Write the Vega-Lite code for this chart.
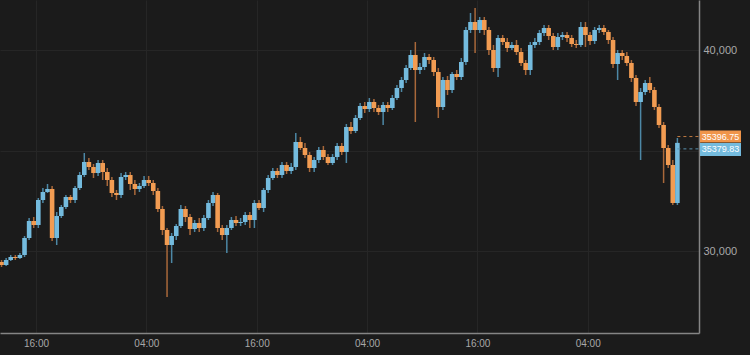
{
  "$schema": "https://vega.github.io/schema/vega-lite/v6.json",
  "width": 699,
  "height": 333,
  "autosize": "none",
  "padding": {"left": 0, "top": 0, "right": 51, "bottom": 22},
  "background": "#1b1b1b",
  "config": {
    "view": {"stroke": null},
    "axis": {"labelFont": "Liberation Sans", "labelColor": "#a8a8a8", "labelFontSize": 10, "gridColor": "#262626", "gridWidth": 1, "domainColor": "#858585", "domainWidth": 1.5, "ticks": false, "title": null}
  },
  "datasets": {
    "candles": [
      {"t":"2021-01-07T12:15:00","o":29453,"h":29552,"l":29204,"c":29304},
      {"t":"2021-01-07T12:45:00","o":29304,"h":29652,"l":29254,"c":29552},
      {"t":"2021-01-07T13:15:00","o":29552,"h":29801,"l":29502,"c":29701},
      {"t":"2021-01-07T13:45:00","o":29701,"h":29801,"l":29552,"c":29652},
      {"t":"2021-01-07T14:15:00","o":29652,"h":29900,"l":29602,"c":29801},
      {"t":"2021-01-07T14:45:00","o":29801,"h":30746,"l":29701,"c":30647},
      {"t":"2021-01-07T15:15:00","o":30647,"h":31642,"l":30547,"c":31493},
      {"t":"2021-01-07T15:45:00","o":31493,"h":31692,"l":31144,"c":31294},
      {"t":"2021-01-07T16:15:00","o":31294,"h":32637,"l":31144,"c":32538},
      {"t":"2021-01-07T16:45:00","o":32538,"h":33135,"l":32388,"c":32936},
      {"t":"2021-01-07T17:15:00","o":32936,"h":33334,"l":32886,"c":33085},
      {"t":"2021-01-07T17:45:00","o":33085,"h":33234,"l":30497,"c":30647},
      {"t":"2021-01-07T18:15:00","o":30647,"h":31940,"l":30298,"c":31741},
      {"t":"2021-01-07T18:45:00","o":31741,"h":32289,"l":31642,"c":32189},
      {"t":"2021-01-07T19:15:00","o":32189,"h":32786,"l":32090,"c":32687},
      {"t":"2021-01-07T19:45:00","o":32687,"h":32786,"l":32388,"c":32538},
      {"t":"2021-01-07T20:15:00","o":32538,"h":33234,"l":32388,"c":33135},
      {"t":"2021-01-07T20:45:00","o":33135,"h":33931,"l":33035,"c":33781},
      {"t":"2021-01-07T21:15:00","o":33781,"h":34876,"l":33682,"c":34428},
      {"t":"2021-01-07T21:45:00","o":34428,"h":34627,"l":34030,"c":34179},
      {"t":"2021-01-07T22:15:00","o":34179,"h":34329,"l":33632,"c":33881},
      {"t":"2021-01-07T22:45:00","o":33881,"h":34528,"l":33732,"c":34378},
      {"t":"2021-01-07T23:15:00","o":34378,"h":34528,"l":33533,"c":33931},
      {"t":"2021-01-07T23:45:00","o":33931,"h":34130,"l":33234,"c":33533},
      {"t":"2021-01-08T00:15:00","o":33533,"h":33682,"l":32687,"c":32886},
      {"t":"2021-01-08T00:45:00","o":32886,"h":33035,"l":32538,"c":32786},
      {"t":"2021-01-08T01:15:00","o":32786,"h":33881,"l":32637,"c":33682},
      {"t":"2021-01-08T01:45:00","o":33682,"h":33931,"l":33533,"c":33781},
      {"t":"2021-01-08T02:15:00","o":33781,"h":33931,"l":33035,"c":33334},
      {"t":"2021-01-08T02:45:00","o":33334,"h":33533,"l":32786,"c":33085},
      {"t":"2021-01-08T03:15:00","o":33085,"h":33384,"l":32936,"c":33234},
      {"t":"2021-01-08T03:45:00","o":33234,"h":33732,"l":33135,"c":33533},
      {"t":"2021-01-08T04:15:00","o":33533,"h":33732,"l":33234,"c":33384},
      {"t":"2021-01-08T04:45:00","o":33384,"h":33533,"l":32786,"c":32985},
      {"t":"2021-01-08T05:15:00","o":32985,"h":33135,"l":31940,"c":32090},
      {"t":"2021-01-08T05:45:00","o":32090,"h":32239,"l":30796,"c":31045},
      {"t":"2021-01-08T06:15:00","o":31045,"h":31144,"l":27711,"c":30298},
      {"t":"2021-01-08T06:45:00","o":30298,"h":30896,"l":29403,"c":30746},
      {"t":"2021-01-08T07:15:00","o":30746,"h":31344,"l":30547,"c":31244},
      {"t":"2021-01-08T07:45:00","o":31244,"h":32289,"l":31144,"c":32090},
      {"t":"2021-01-08T08:15:00","o":32090,"h":32239,"l":31443,"c":31692},
      {"t":"2021-01-08T08:45:00","o":31692,"h":31841,"l":30796,"c":31095},
      {"t":"2021-01-08T09:15:00","o":31095,"h":31543,"l":30945,"c":31393},
      {"t":"2021-01-08T09:45:00","o":31393,"h":31642,"l":30945,"c":31144},
      {"t":"2021-01-08T10:15:00","o":31144,"h":31791,"l":30995,"c":31642},
      {"t":"2021-01-08T10:45:00","o":31642,"h":32538,"l":31543,"c":32388},
      {"t":"2021-01-08T11:15:00","o":32388,"h":32936,"l":32239,"c":32786},
      {"t":"2021-01-08T11:45:00","o":32786,"h":32886,"l":30945,"c":31144},
      {"t":"2021-01-08T12:15:00","o":31144,"h":31294,"l":30547,"c":30796},
      {"t":"2021-01-08T12:45:00","o":30796,"h":31294,"l":29900,"c":31144},
      {"t":"2021-01-08T13:15:00","o":31144,"h":31692,"l":31045,"c":31543},
      {"t":"2021-01-08T13:45:00","o":31543,"h":31741,"l":31244,"c":31393},
      {"t":"2021-01-08T14:15:00","o":31393,"h":31642,"l":31244,"c":31443},
      {"t":"2021-01-08T14:45:00","o":31443,"h":31940,"l":31294,"c":31791},
      {"t":"2021-01-08T15:15:00","o":31791,"h":31940,"l":31144,"c":31543},
      {"t":"2021-01-08T15:45:00","o":31543,"h":32538,"l":31144,"c":32388},
      {"t":"2021-01-08T16:15:00","o":32388,"h":32538,"l":32040,"c":32139},
      {"t":"2021-01-08T16:45:00","o":32139,"h":33135,"l":31940,"c":33035},
      {"t":"2021-01-08T17:15:00","o":33035,"h":33781,"l":32886,"c":33632},
      {"t":"2021-01-08T17:45:00","o":33632,"h":34130,"l":33533,"c":33980},
      {"t":"2021-01-08T18:15:00","o":33980,"h":34130,"l":33632,"c":33781},
      {"t":"2021-01-08T18:45:00","o":33781,"h":34428,"l":33632,"c":34279},
      {"t":"2021-01-08T19:15:00","o":34279,"h":34428,"l":33831,"c":33980},
      {"t":"2021-01-08T19:45:00","o":33980,"h":34378,"l":33831,"c":34179},
      {"t":"2021-01-08T20:15:00","o":34179,"h":35870,"l":34030,"c":35423},
      {"t":"2021-01-08T20:45:00","o":35423,"h":35672,"l":35025,"c":35124},
      {"t":"2021-01-08T21:15:00","o":35124,"h":35373,"l":34627,"c":34776},
      {"t":"2021-01-08T21:45:00","o":34776,"h":34925,"l":33931,"c":34130},
      {"t":"2021-01-08T22:15:00","o":34130,"h":34677,"l":33931,"c":34528},
      {"t":"2021-01-08T22:45:00","o":34528,"h":35174,"l":34378,"c":35025},
      {"t":"2021-01-08T23:15:00","o":35025,"h":35224,"l":34528,"c":34677},
      {"t":"2021-01-08T23:45:00","o":34677,"h":34826,"l":34279,"c":34378},
      {"t":"2021-01-09T00:15:00","o":34378,"h":34826,"l":34279,"c":34677},
      {"t":"2021-01-09T00:45:00","o":34677,"h":35373,"l":34528,"c":35224},
      {"t":"2021-01-09T01:15:00","o":35224,"h":35373,"l":34776,"c":34925},
      {"t":"2021-01-09T01:45:00","o":34925,"h":36318,"l":34378,"c":36169},
      {"t":"2021-01-09T02:15:00","o":36169,"h":36418,"l":35821,"c":35970},
      {"t":"2021-01-09T02:45:00","o":35970,"h":36766,"l":35870,"c":36617},
      {"t":"2021-01-09T03:15:00","o":36617,"h":37363,"l":36517,"c":37214},
      {"t":"2021-01-09T03:45:00","o":37214,"h":37413,"l":36866,"c":37065},
      {"t":"2021-01-09T04:15:00","o":37065,"h":37612,"l":36916,"c":37413},
      {"t":"2021-01-09T04:45:00","o":37413,"h":37562,"l":36916,"c":37114},
      {"t":"2021-01-09T05:15:00","o":37114,"h":37264,"l":36766,"c":36916},
      {"t":"2021-01-09T05:45:00","o":36916,"h":37413,"l":36269,"c":37264},
      {"t":"2021-01-09T06:15:00","o":37264,"h":37413,"l":36916,"c":37114},
      {"t":"2021-01-09T06:45:00","o":37114,"h":37761,"l":37015,"c":37612},
      {"t":"2021-01-09T07:15:00","o":37612,"h":38259,"l":37512,"c":38109},
      {"t":"2021-01-09T07:45:00","o":38109,"h":38657,"l":37910,"c":38507},
      {"t":"2021-01-09T08:15:00","o":38507,"h":39254,"l":38358,"c":39104},
      {"t":"2021-01-09T08:45:00","o":39104,"h":40000,"l":39005,"c":39751},
      {"t":"2021-01-09T09:15:00","o":39751,"h":40398,"l":36418,"c":39005},
      {"t":"2021-01-09T09:45:00","o":39005,"h":39353,"l":38806,"c":39154},
      {"t":"2021-01-09T10:15:00","o":39154,"h":39851,"l":39005,"c":39652},
      {"t":"2021-01-09T10:45:00","o":39652,"h":39801,"l":39303,"c":39502},
      {"t":"2021-01-09T11:15:00","o":39502,"h":39652,"l":38706,"c":38905},
      {"t":"2021-01-09T11:45:00","o":38905,"h":39104,"l":36617,"c":37164},
      {"t":"2021-01-09T12:15:00","o":37164,"h":38657,"l":37015,"c":38507},
      {"t":"2021-01-09T12:45:00","o":38507,"h":38706,"l":37761,"c":38010},
      {"t":"2021-01-09T13:15:00","o":38010,"h":38905,"l":37860,"c":38806},
      {"t":"2021-01-09T13:45:00","o":38806,"h":39005,"l":38507,"c":38657},
      {"t":"2021-01-09T14:15:00","o":38657,"h":39602,"l":38507,"c":39403},
      {"t":"2021-01-09T14:45:00","o":39403,"h":41144,"l":39254,"c":40995},
      {"t":"2021-01-09T15:15:00","o":40995,"h":41841,"l":40846,"c":41393},
      {"t":"2021-01-09T15:45:00","o":41393,"h":42090,"l":39851,"c":40995},
      {"t":"2021-01-09T16:15:00","o":40995,"h":41642,"l":40846,"c":41492},
      {"t":"2021-01-09T16:45:00","o":41492,"h":41642,"l":40746,"c":40995},
      {"t":"2021-01-09T17:15:00","o":40995,"h":41144,"l":39751,"c":40000},
      {"t":"2021-01-09T17:45:00","o":40000,"h":40249,"l":38905,"c":39104},
      {"t":"2021-01-09T18:15:00","o":39104,"h":40746,"l":38657,"c":40597},
      {"t":"2021-01-09T18:45:00","o":40597,"h":40746,"l":40249,"c":40398},
      {"t":"2021-01-09T19:15:00","o":40398,"h":40597,"l":39900,"c":40099},
      {"t":"2021-01-09T19:45:00","o":40099,"h":40398,"l":40000,"c":40249},
      {"t":"2021-01-09T20:15:00","o":40249,"h":40497,"l":39751,"c":39900},
      {"t":"2021-01-09T20:45:00","o":39900,"h":40099,"l":39204,"c":39353},
      {"t":"2021-01-09T21:15:00","o":39353,"h":39502,"l":38756,"c":39005},
      {"t":"2021-01-09T21:45:00","o":39005,"h":40398,"l":38756,"c":40249},
      {"t":"2021-01-09T22:15:00","o":40249,"h":40597,"l":40099,"c":40398},
      {"t":"2021-01-09T22:45:00","o":40398,"h":40995,"l":40249,"c":40846},
      {"t":"2021-01-09T23:15:00","o":40846,"h":41244,"l":40696,"c":41094},
      {"t":"2021-01-09T23:45:00","o":41094,"h":41244,"l":40497,"c":40696},
      {"t":"2021-01-10T00:15:00","o":40696,"h":40846,"l":40000,"c":40149},
      {"t":"2021-01-10T00:45:00","o":40149,"h":40846,"l":40000,"c":40647},
      {"t":"2021-01-10T01:15:00","o":40647,"h":40895,"l":40497,"c":40746},
      {"t":"2021-01-10T01:45:00","o":40746,"h":40895,"l":40398,"c":40597},
      {"t":"2021-01-10T02:15:00","o":40597,"h":40746,"l":40149,"c":40298},
      {"t":"2021-01-10T02:45:00","o":40298,"h":40497,"l":40099,"c":40249},
      {"t":"2021-01-10T03:15:00","o":40249,"h":41393,"l":40149,"c":41144},
      {"t":"2021-01-10T03:45:00","o":41144,"h":41393,"l":40149,"c":40746},
      {"t":"2021-01-10T04:15:00","o":40746,"h":40895,"l":40249,"c":40448},
      {"t":"2021-01-10T04:45:00","o":40448,"h":41144,"l":40298,"c":40995},
      {"t":"2021-01-10T05:15:00","o":40995,"h":41244,"l":40846,"c":41094},
      {"t":"2021-01-10T05:45:00","o":41094,"h":41244,"l":40746,"c":40895},
      {"t":"2021-01-10T06:15:00","o":40895,"h":40995,"l":40298,"c":40497},
      {"t":"2021-01-10T06:45:00","o":40497,"h":40647,"l":39104,"c":39303},
      {"t":"2021-01-10T07:15:00","o":39303,"h":40000,"l":38507,"c":39851},
      {"t":"2021-01-10T07:45:00","o":39851,"h":40000,"l":39502,"c":39701},
      {"t":"2021-01-10T08:15:00","o":39701,"h":39900,"l":39204,"c":39353},
      {"t":"2021-01-10T08:45:00","o":39353,"h":39502,"l":38408,"c":38607},
      {"t":"2021-01-10T09:15:00","o":38607,"h":38756,"l":37214,"c":37413},
      {"t":"2021-01-10T09:45:00","o":37413,"h":38109,"l":34528,"c":37910},
      {"t":"2021-01-10T10:15:00","o":37910,"h":38507,"l":37761,"c":38358},
      {"t":"2021-01-10T10:45:00","o":38358,"h":38657,"l":37860,"c":38010},
      {"t":"2021-01-10T11:15:00","o":38010,"h":38159,"l":37015,"c":37164},
      {"t":"2021-01-10T11:45:00","o":37164,"h":37313,"l":36120,"c":36269},
      {"t":"2021-01-10T12:15:00","o":36269,"h":36418,"l":33384,"c":35124},
      {"t":"2021-01-10T12:45:00","o":35124,"h":35274,"l":34130,"c":34279},
      {"t":"2021-01-10T13:15:00","o":34279,"h":34528,"l":32289,"c":32388},
      {"t":"2021-01-10T13:45:00","o":32388,"h":35622,"l":32289,"c":35379.83}
    ],
    "labels": [
      {"t":"2021-01-10T13:45:00","v":35396.75,"label":"35396.75","s":"a"},
      {"t":"2021-01-10T13:45:00","v":35379.83,"label":"35379.83","s":"b"}
    ]
  },
  "encoding": {
    "x": {
      "field": "t",
      "type": "temporal",
      "scale": {"domain": [{"year":2021,"month":1,"date":7,"hours":12,"minutes":5}, {"year":2021,"month":1,"date":10,"hours":16,"minutes":6}], "nice": false, "padding": 0},
      "axis": {
        "orient": "bottom",
        "format": "%H:%M",
        "labelPadding": 5,
        "values": [
          {"year":2021,"month":1,"date":7,"hours":16},
          {"year":2021,"month":1,"date":8,"hours":4},
          {"year":2021,"month":1,"date":8,"hours":16},
          {"year":2021,"month":1,"date":9,"hours":4},
          {"year":2021,"month":1,"date":9,"hours":16},
          {"year":2021,"month":1,"date":10,"hours":4}
        ]
      }
    },
    "y": {
      "type": "quantitative",
      "scale": {"domain": [25921, 42488], "zero": false, "nice": false},
      "axis": {
        "orient": "right",
        "values": [30000, 35000, 40000],
        "labelExpr": "datum.value == 35000 ? '' : format(datum.value, ',')",
        "labelPadding": 4,
        "labelFontSize": 11,
        "labelAlign": "left"
      }
    }
  },
  "layer": [
    {
      "data": {"name": "candles"},
      "mark": {"type": "rule", "strokeWidth": 1.5},
      "encoding": {
        "y": {"field": "l", "type": "quantitative"},
        "y2": {"field": "h"},
        "color": {"condition": {"test": "datum.c >= datum.o", "value": "#4d88a6"}, "value": "#a9683a"}
      }
    },
    {
      "data": {"name": "candles"},
      "mark": {"type": "bar", "width": 4.6},
      "encoding": {
        "y": {"field": "o", "type": "quantitative"},
        "y2": {"field": "c"},
        "color": {"condition": {"test": "datum.c >= datum.o", "value": "#74bbde"}, "value": "#f29c52"}
      }
    },
    {
      "data": {"name": "labels"},
      "transform": [{"filter": "datum.s == 'a'"}],
      "mark": {"type": "rule", "strokeDash": [3, 3], "strokeWidth": 1, "color": "#c07a42", "yOffset": -6},
      "encoding": {
        "x2": {"datum": {"year":2021,"month":1,"date":10,"hours":16,"minutes":6}},
        "y": {"field": "v", "type": "quantitative"}
      }
    },
    {
      "data": {"name": "labels"},
      "transform": [{"filter": "datum.s == 'b'"}],
      "mark": {"type": "rule", "strokeDash": [3, 3], "strokeWidth": 1, "color": "#5a93b0", "yOffset": 6},
      "encoding": {
        "x2": {"datum": {"year":2021,"month":1,"date":10,"hours":16,"minutes":6}},
        "y": {"field": "v", "type": "quantitative"}
      }
    },
    {
      "data": {"name": "labels"},
      "transform": [{"filter": "datum.s == 'a'"}],
      "mark": {"type": "rect", "color": "#f0954a", "yOffset": -12, "xOffset": 1, "x2Offset": 42},
      "encoding": {
        "x": {"datum": {"year":2021,"month":1,"date":10,"hours":16,"minutes":6}},
        "x2": {"datum": {"year":2021,"month":1,"date":10,"hours":16,"minutes":6}},
        "y": {"field": "v", "type": "quantitative"},
        "y2": {"field": "v"}
      }
    },
    {
      "data": {"name": "labels"},
      "transform": [{"filter": "datum.s == 'b'"}],
      "mark": {"type": "rect", "color": "#74bbde", "y2Offset": 13, "xOffset": 1, "x2Offset": 42},
      "encoding": {
        "x": {"datum": {"year":2021,"month":1,"date":10,"hours":16,"minutes":6}},
        "x2": {"datum": {"year":2021,"month":1,"date":10,"hours":16,"minutes":6}},
        "y": {"field": "v", "type": "quantitative"},
        "y2": {"field": "v"}
      }
    },
    {
      "data": {"name": "labels"},
      "transform": [{"filter": "datum.s == 'a'"}],
      "mark": {"type": "text", "color": "#ffffff", "font": "Liberation Sans", "fontSize": 9, "align": "center", "baseline": "middle", "dx": 21.5, "yOffset": -6},
      "encoding": {
        "x": {"datum": {"year":2021,"month":1,"date":10,"hours":16,"minutes":6}},
        "y": {"field": "v", "type": "quantitative"},
        "text": {"field": "label"}
      }
    },
    {
      "data": {"name": "labels"},
      "transform": [{"filter": "datum.s == 'b'"}],
      "mark": {"type": "text", "color": "#ffffff", "font": "Liberation Sans", "fontSize": 9, "align": "center", "baseline": "middle", "dx": 21.5, "yOffset": 6.5},
      "encoding": {
        "x": {"datum": {"year":2021,"month":1,"date":10,"hours":16,"minutes":6}},
        "y": {"field": "v", "type": "quantitative"},
        "text": {"field": "label"}
      }
    }
  ]
}
